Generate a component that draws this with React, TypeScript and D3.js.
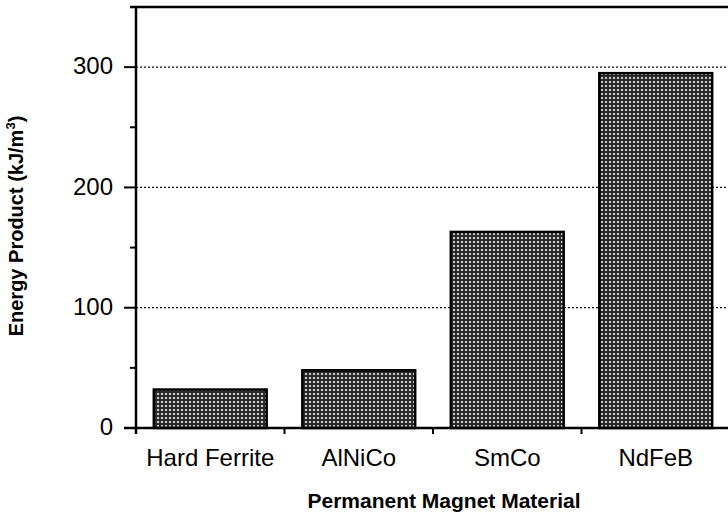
import React from 'react';
import * as d3 from 'd3';

const categories = ['Hard Ferrite', 'AlNiCo', 'SmCo', 'NdFeB'];
const energyValues = [32, 48, 163, 295];
const majorTicks = [0, 100, 200, 300];
const minorTicks = [50, 150, 250];

export default function App() {
  const width = 728;
  const height = 518;
  const left = 136;
  const right = 730;
  const top = 7;
  const bottom = 428;

  const x = d3.scaleBand().domain(categories).range([left, right]).paddingInner(0.24).paddingOuter(0.12);
  const y = d3.scaleLinear().domain([0, 350]).range([bottom, top]);
  const step = x.step();
  const font = '"Liberation Sans", Arial, Helvetica, sans-serif';

  return (
    <svg width={width} height={height} style={{ position: 'absolute', left: 0, top: 0, background: '#fff' }}>
      <defs>
        <pattern id="hatch" width="4" height="4" patternUnits="userSpaceOnUse">
          <rect width="4" height="4" fill="#2a2a2a" />
          <circle cx="2" cy="2" r="1.1" fill="#f4f4f4" />
        </pattern>
      </defs>

      {/* dotted gridlines */}
      {majorTicks.filter(t => t > 0).map(t => (
        <line key={'g' + t} x1={left} x2={width} y1={y(t)} y2={y(t)}
          stroke="#111" strokeWidth={1.3} strokeDasharray="2,2" />
      ))}

      {/* bars */}
      {categories.map((c, i) => (
        <rect key={c} x={x(c)} y={y(energyValues[i])} width={x.bandwidth()}
          height={bottom - y(energyValues[i])} fill="url(#hatch)" stroke="#000" strokeWidth={2.5} />
      ))}

      {/* frame top */}
      <line x1={left - 6} x2={width} y1={top} y2={top} stroke="#000" strokeWidth={2.5} />
      {/* y axis */}
      <line x1={left} x2={left} y1={top} y2={bottom + 6} stroke="#000" strokeWidth={2.5} />
      {/* x axis */}
      <line x1={left - 12} x2={width} y1={bottom} y2={bottom} stroke="#000" strokeWidth={2.5} />

      {majorTicks.map(t => (
        <g key={'t' + t}>
          <line x1={left - 12} x2={left} y1={y(t)} y2={y(t)} stroke="#000" strokeWidth={2} />
          <text x={113} y={y(t)} dy="0.3em" textAnchor="end" fontFamily={font} fontSize={24}>{t}</text>
        </g>
      ))}
      {minorTicks.map(t => (
        <line key={'m' + t} x1={left - 6} x2={left} y1={y(t)} y2={y(t)} stroke="#000" strokeWidth={2} />
      ))}

      {/* category separators */}
      {categories.slice(1).map(c => (
        <line key={'s' + c} x1={x(c)! - step * 0.12} x2={x(c)! - step * 0.12} y1={bottom} y2={bottom + 6}
          stroke="#000" strokeWidth={2} />
      ))}

      {categories.map(c => (
        <text key={'l' + c} x={x(c)! + x.bandwidth() / 2} y={466} textAnchor="middle"
          fontFamily={font} fontSize={24}>{c}</text>
      ))}

      <text x={444} y={508} textAnchor="middle" fontFamily={font} fontSize={21} fontWeight="bold">
        Permanent Magnet Material
      </text>
      <text transform="translate(23,226) rotate(-90)" textAnchor="middle" fontFamily={font}
        fontSize={20} fontWeight="bold">
        Energy Product (kJ/m<tspan fontSize={13} dy={-8}>3</tspan><tspan dy={8}>)</tspan>
      </text>
    </svg>
  );
}
